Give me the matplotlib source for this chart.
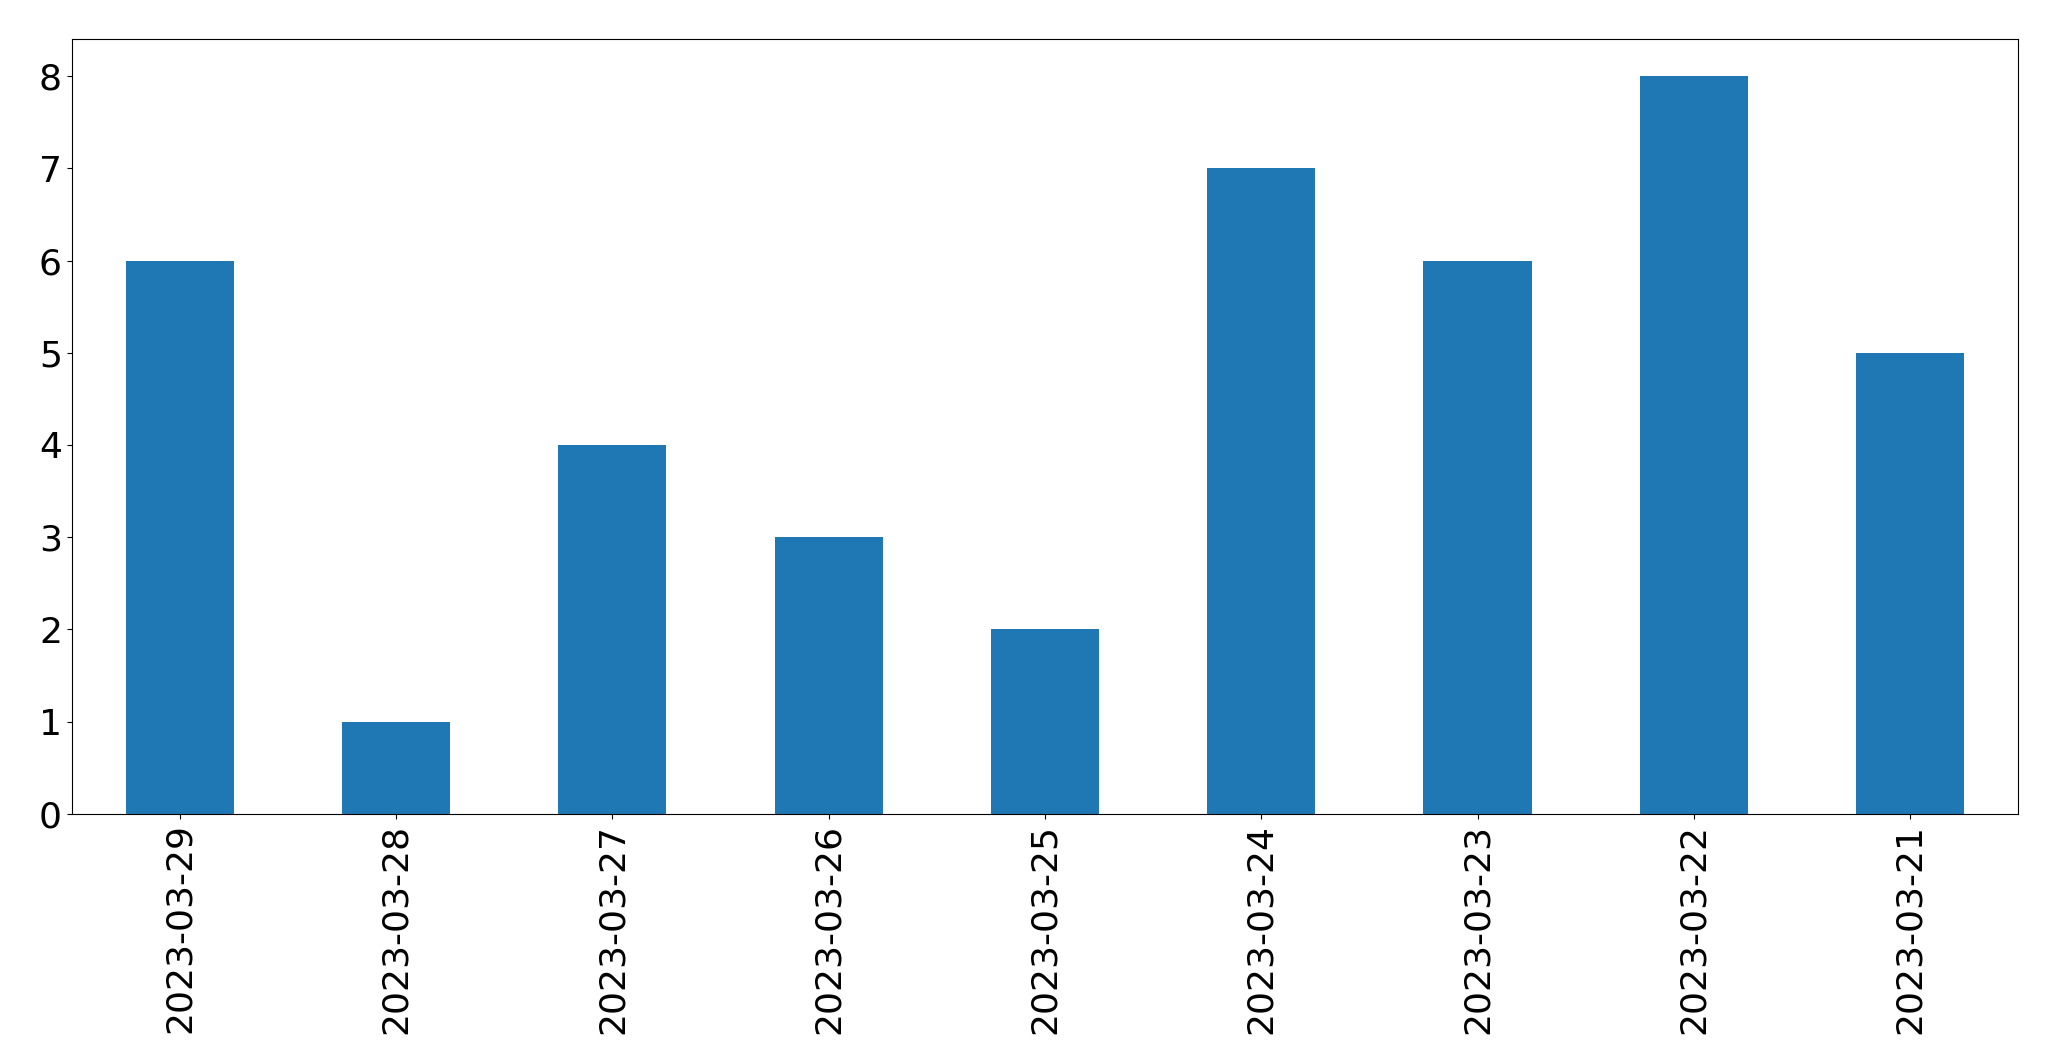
import matplotlib
matplotlib.use("Agg")
import matplotlib.pyplot as plt

dates = ["2023-03-29", "2023-03-28", "2023-03-27", "2023-03-26", "2023-03-25",
         "2023-03-24", "2023-03-23", "2023-03-22", "2023-03-21"]
counts = [6, 1, 4, 3, 2, 7, 6, 8, 5]

fig = plt.figure(figsize=(20.49, 10.61), dpi=100)
ax = fig.add_axes([0.035, 0.233, 0.95, 0.73])
x = range(len(dates))
ax.bar(x, counts, width=0.5, color="#1f77b4")
ax.set_xticks(list(x))
ax.set_xticklabels(dates, rotation=90)
ax.set_xlim(-0.5, len(dates) - 0.5)
ax.set_ylim(0, 8.4)
ax.tick_params(labelsize=26)
fig.savefig("out.png", dpi=100)
